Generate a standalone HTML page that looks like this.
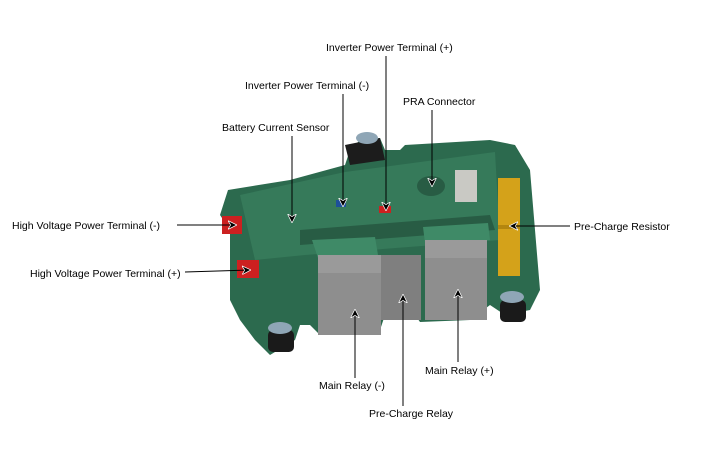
<!DOCTYPE html>
<html><head><style>
body{margin:0;background:#fff;}
svg{display:block;font-family:"Liberation Sans",Arial,sans-serif;font-size:10.5px;}
</style></head><body>
<svg width="701" height="461" viewBox="0 0 701 461">
<defs>
<marker id="ar" viewBox="0 0 10 10" refX="9" refY="5" markerWidth="9" markerHeight="9" orient="auto">
<path d="M0,0 L10,5 L0,10 L3,5 z" fill="#000" stroke="#fff" stroke-width="0.8"/></marker>
</defs>
<path d="M350,150 L360,140 L380,138 L385,150 L400,150 L405,145 L490,140 L515,145 L530,170 L535,230 L540,290 L530,310 L505,315 L490,305 L470,320 L420,322 L415,315 L385,315 L380,330 L320,335 L310,325 L300,325 L295,340 L270,355 L255,340 L240,320 L230,300 L230,230 L220,215 L228,190 L290,180 L345,165 Z" fill="#2c6a4e"/>
<path d="M240,195 L345,172 L495,152 L500,240 L305,255 L255,260 Z" fill="#367a5a"/>
<path d="M300,230 L490,215 L495,230 L300,245 Z" fill="#285c44"/>
<path d="M345,145 L380,138 L385,160 L350,165 Z" fill="#1c1c1c"/>
<ellipse cx="367" cy="138" rx="11" ry="6" fill="#8fa6b6"/>
<path d="M312,240 L375,237 L378,255 L318,258 Z" fill="#3f8a67"/>
<rect x="318" y="255" width="63" height="20" fill="#9a9a9a"/>
<rect x="318" y="273" width="63" height="62" fill="#8e8e8e"/>
<rect x="381" y="255" width="40" height="65" fill="#7f7f7f"/>
<path d="M423,227 L488,223 L490,240 L425,243 Z" fill="#3f8a67"/>
<rect x="425" y="240" width="62" height="20" fill="#9a9a9a"/>
<rect x="425" y="258" width="62" height="62" fill="#8e8e8e"/>
<rect x="498" y="178" width="22" height="98" fill="#d4a21a"/>
<rect x="498" y="225" width="22" height="4" fill="#b3860f"/>
<rect x="455" y="170" width="22" height="32" fill="#c9c9c4"/>
<rect x="222" y="216" width="20" height="18" fill="#cc2020"/>
<rect x="237" y="260" width="22" height="18" fill="#cc2020"/>
<rect x="336" y="200" width="10" height="7" fill="#1d4f9a"/>
<rect x="379" y="206" width="12" height="7" fill="#cc2020"/>
<ellipse cx="431" cy="186" rx="14" ry="10" fill="#285c44"/>
<rect x="268" y="330" width="26" height="22" rx="5" fill="#1a1a1a"/>
<ellipse cx="280" cy="328" rx="12" ry="6" fill="#8fa6b6"/>
<rect x="500" y="300" width="26" height="22" rx="5" fill="#1a1a1a"/>
<ellipse cx="512" cy="297" rx="12" ry="6" fill="#8fa6b6"/>
<g fill="#000">
<text x="326" y="51">Inverter Power Terminal (+)</text>
<text x="245" y="89">Inverter Power Terminal (-)</text>
<text x="403" y="105">PRA Connector</text>
<text x="222" y="131">Battery Current Sensor</text>
<text x="12" y="229">High Voltage Power Terminal (-)</text>
<text x="30" y="277">High Voltage Power Terminal (+)</text>
<text x="574" y="230">Pre-Charge Resistor</text>
<text x="319" y="389">Main Relay (-)</text>
<text x="369" y="417">Pre-Charge Relay</text>
<text x="425" y="374">Main Relay (+)</text>
</g>
<g stroke="#000" stroke-width="1" marker-end="url(#ar)">
<line x1="386" y1="56" x2="386" y2="210"/>
<line x1="343" y1="94" x2="343" y2="206"/>
<line x1="432" y1="110" x2="432" y2="186"/>
<line x1="292" y1="136" x2="292" y2="222"/>
<line x1="177" y1="225" x2="236" y2="225"/>
<line x1="185" y1="272" x2="250" y2="270"/>
<line x1="570" y1="226" x2="510" y2="226"/>
<line x1="355" y1="378" x2="355" y2="310"/>
<line x1="403" y1="406" x2="403" y2="295"/>
<line x1="458" y1="362" x2="458" y2="290"/>
</g>
</svg>
</body></html>
